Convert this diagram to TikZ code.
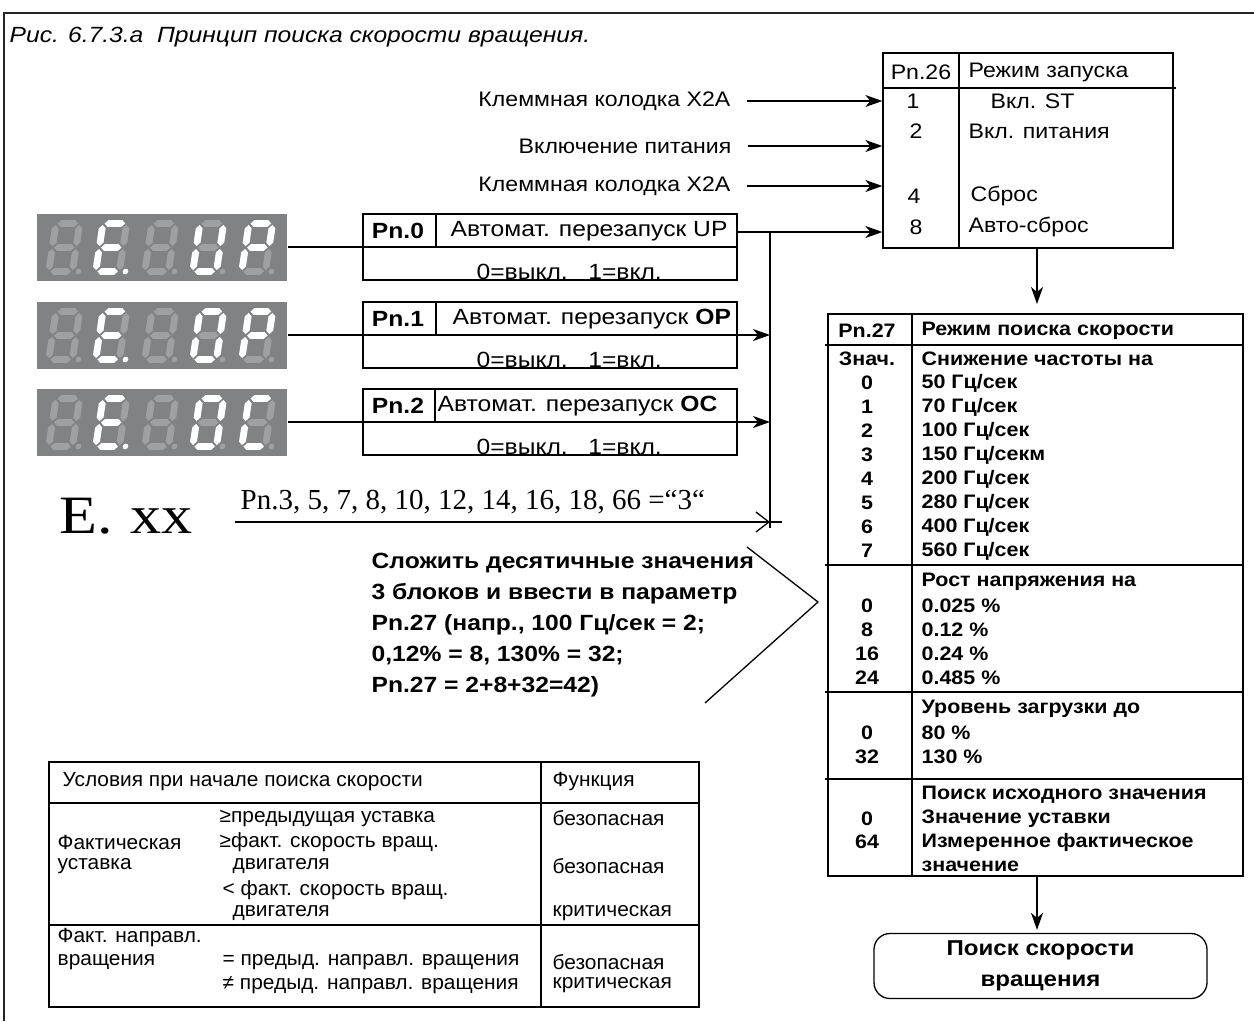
\documentclass[tikz,border=0pt]{standalone}
\usepackage{fontspec}
\setmainfont{Liberation Sans}
\newfontfamily\sA[FakeStretch=1.1]{Liberation Sans}
\newfontfamily\sB[FakeStretch=1.12]{Liberation Sans}
\newfontfamily\sC[FakeStretch=1.02]{Liberation Sans}
\newfontfamily\serifx{Liberation Serif}
\newfontfamily\serifw[FakeStretch=1.15]{Liberation Serif}
\usetikzlibrary{arrows.meta,calc}
\definecolor{dispbg}{RGB}{128,130,132}
\definecolor{segdim}{RGB}{158,160,162}
\def\segcol{segdim}
\def\hh{3.4}
\newcommand\hseg[3]{\fill[fill=\segcol] (#1,#3) -- ({#1+\hh},{#3-\hh}) -- ({#2-\hh},{#3-\hh}) -- (#2,#3) -- ({#2-\hh},{#3+\hh}) -- ({#1+\hh},{#3+\hh}) -- cycle;}
\newcommand\vseg[3]{\fill[fill=\segcol] (#1,#2) -- ({#1+\hh},{#2+\hh}) -- ({#1+\hh},{#3-\hh}) -- (#1,#3) -- ({#1-\hh},{#3-\hh}) -- ({#1-\hh},{#2+\hh}) -- cycle;}
\newcommand\SA{\hseg{5}{25.5}{-51}}
\newcommand\SB{\vseg{27}{-49.5}{-28.5}}
\newcommand\SC{\vseg{27}{-25.5}{-4.5}}
\newcommand\SD{\hseg{5}{25.5}{-3}}
\newcommand\SE{\vseg{3.3}{-25.5}{-4.5}}
\newcommand\SF{\vseg{3.3}{-49.5}{-28.5}}
\newcommand\SG{\hseg{5}{25.5}{-27}}
\newcommand\SP{\fill[fill=\segcol] (33,-3) circle (2.8);}
\newcommand\sdigit[3]{%
  \begin{scope}[shift={(#1,#2)},xslant=0.15]
    \def\segcol{segdim}\SA\SB\SC\SD\SE\SF\SG\SP
    \def\segcol{white}#3
  \end{scope}}
\newcommand\sdisplay[3]{% y bottom, digit4, digit5
  \sdigit{45}{#1}{}
  \sdigit{92}{#1}{\SA\SD\SE\SF\SG\SP}
  \sdigit{141}{#1}{}
  \sdigit{189}{#1}{#2}
  \sdigit{238}{#1}{#3}}
\begin{document}
\begin{tikzpicture}[x=1pt,y=-1pt,line width=1.3pt,
  arr/.style={-{Stealth[length=17pt,width=12pt,inset=5pt]}},
  txt/.style={inner sep=0pt,font=\fontsize{21}{25}\selectfont\sA},
  ptxt/.style={inner sep=0pt,font=\fontsize{22}{26}\selectfont\sB},
  btxt/.style={inner sep=0pt,font=\fontsize{19.5}{23}\selectfont\sA\bfseries},
  ntxt/.style={inner sep=0pt,font=\fontsize{20.5}{24}\selectfont\sC},
  pbox/.style={draw,minimum width=374pt,minimum height=66pt,inner sep=0pt},
  dispbox/.style={fill=dispbg,minimum width=250pt,minimum height=67pt,inner sep=0pt}]
\useasboundingbox (0,0) rectangle (1254,1021);
% outer frame
\draw[line width=2.5pt,black!85] (1254,13) -- (4,13) -- (4,1021);
\node[inner sep=0pt,anchor=base west,font=\fontsize{22}{26}\selectfont\sB\itshape] (title) at (9,42) {Рис. 6.7.3.а\ \ Принцип поиска скорости вращения.};

% ---------- Pn.26 table
\node[draw,minimum width=290pt,minimum height=195pt,inner sep=0pt] (pn26) at (1028,150.5) {};
\draw (883,88) -- (1176,88);
\draw (959,53) -- (959,248);
\node[txt] (h26a) at (921,72) {Pn.26};
\node[txt,anchor=west] (h26b) at (968,72) {Режим запуска};
\node[txt] (r1a) at (913,101) {1};
\node[txt,anchor=west] (r1b) at (990,101) {Вкл. ST};
\node[txt] (r2a) at (916,131) {2};
\node[txt,anchor=west] (r2b) at (968,131) {Вкл. питания};
\node[txt] (r4a) at (914,196) {4};
\node[txt,anchor=west] (r4b) at (970,196) {Сброс};
\node[txt] (r8a) at (916,227) {8};
\node[txt,anchor=west] (r8b) at (968,227) {Авто-сброс};

% left labels
\node[txt,anchor=east] (l1) at (731,101) {Клеммная колодка X2A};
\node[txt,anchor=east] (l2) at (732,146) {Включение питания};
\node[txt,anchor=east] (l3) at (731,186) {Клеммная колодка X2A};
\draw[arr] ([xshift=16pt]l1.east) -- (l1.east -| pn26.west);
\draw[arr] ([xshift=16pt]l2.east) -- (l2.east -| pn26.west);
\draw[arr] ([xshift=16pt]l3.east) -- (l3.east -| pn26.west);

% ---------- displays
\node[dispbox] (d1) at (162,247) {};
\node[dispbox] (d2) at (162,335) {};
\node[dispbox] (d3) at (162,422) {};
\sdisplay{274.5}{\SB\SC\SD\SE\SF}{\SA\SB\SE\SF\SG}
\sdisplay{362.5}{\SA\SB\SC\SD\SE\SF}{\SA\SB\SE\SF\SG}
\sdisplay{449.5}{\SA\SB\SC\SD\SE\SF}{\SA\SD\SE\SF}

% ---------- Pn.0..2 boxes
\node[pbox] (b0) at (550,247) {};
\node[pbox] (b1) at (550,335) {};
\node[pbox] (b2) at (550,422) {};
\draw (436,214) -- (436,247);
\draw (436,302) -- (436,335);
\draw (435,389) -- (435,422);
\draw (b0.west) -- (b0.east);
\node[ptxt,font=\fontsize{22}{26}\selectfont\sB\bfseries] (p0a) at (398,231) {Pn.0};
\node[ptxt,anchor=west] (p0b) at (450,231) {Автомат. перезапуск UP};
\node[ptxt,anchor=base west] (p0c) at (476,279) {0=выкл.\ \ \ 1=вкл.};
\node[ptxt,font=\fontsize{22}{26}\selectfont\sB\bfseries] (p1a) at (398,319) {Pn.1};
\node[ptxt,anchor=west] (p1b) at (452,319) {Автомат. перезапуск \textbf{OP}};
\node[ptxt,anchor=base west] (p1c) at (476,367) {0=выкл.\ \ \ 1=вкл.};
\node[ptxt,font=\fontsize{22}{26}\selectfont\sB\bfseries] (p2a) at (398,406) {Pn.2};
\node[ptxt,anchor=west] (p2b) at (437,406) {Автомат. перезапуск \textbf{OC}};
\node[ptxt,anchor=base west] (p2c) at (476,454) {0=выкл.\ \ \ 1=вкл.};

% connectors displays -> boxes/bus
\coordinate (bt) at (770,232);
\coordinate (bb) at (770,528);
\coordinate (p0) at (737,232);
\draw (d1.east) -- (b0.west);
\draw[arr] (d2.east) -- (d2.east -| bt);
\draw[arr] (d3.east) -- (d3.east -| bt);
\draw (p0) -- (bt);
\draw[arr] (bt) -- (bt -| pn26.west);
\draw (bt) -- (bb);
\draw[line width=2.4pt] (770,422) -- (bb);

% E.xx line
\node[inner sep=0pt,anchor=base west,font=\fontsize{54}{60}\selectfont\serifw] (exx) at (59,533) {E.\hspace{17pt}xx};
\node[inner sep=0pt,anchor=base west,font=\fontsize{29}{34}\selectfont\serifx] (pn3) at (240,509) {Pn.3, 5, 7, 8, 10, 12, 14, 16, 18, 66 =“3“};
\coordinate (ex) at (235,522);
\coordinate (exb) at (770,522);
\coordinate (exe) at (782,522);
\draw[-{Straight Barb[length=13pt,width=20pt]}] (ex) -- (exb);
\draw (exb) -- (exe);

% note text
\node[inner sep=0pt,anchor=west,align=left,font=\fontsize{22}{31}\selectfont\sB\bfseries] (note) at (371,625) {Сложить десятичные значения\\3 блоков и ввести в параметр\\Pn.27 (напр., 100 Гц/сек = 2;\\0,12\% = 8, 130\% = 32;\\Pn.27 = 2+8+32=42)};
\coordinate (c1) at (747,547);
\coordinate (c2) at (818,602);
\coordinate (c3) at (705,703);
\draw (c1) -- (c2) -- (c3);

% ---------- Pn.27 table
\node[draw,line width=2pt,minimum width=415pt,minimum height=562pt,inner sep=0pt] (pn27) at (1035.5,595) {};
\draw[line width=2pt] (825,345) -- (1243,345);
\draw[line width=2pt] (825,565) -- (1242,565);
\draw[line width=2pt] (825,692) -- (1242,692);
\draw[line width=2pt] (825,779) -- (1242,779);
\draw[line width=2pt] (912,314) -- (912,876);
\coordinate (a26) at (1037,248);
\draw[arr,shorten >=9pt] (a26) -- (a26 |- pn27.north);
\foreach \y/\a/\b [count=\i] in {
 331/{Pn.27}/{Режим поиска скорости},
 359/{Знач.}/{Снижение частоты на},
 383/0/{50 Гц/сек}, 407/1/{70 Гц/сек}, 431/2/{100 Гц/сек}, 455/3/{150 Гц/секм},
 479/4/{200 Гц/сек}, 503/5/{280 Гц/сек}, 527/6/{400 Гц/сек}, 551/7/{560 Гц/сек},
 582/{}/{Рост напряжения на}, 606/0/{0.025 \%}, 630/8/{0.12 \%}, 654/16/{0.24 \%}, 678/24/{0.485 \%},
 709/{}/{Уровень загрузки до}, 733/0/{80 \%}, 757/32/{130 \%},
 795/{}/{Поиск исходного значения}, 819/0/{Значение уставки}, 842/64/{Измеренное фактическое}, 866/{}/{значение}}
 {\node[btxt] (ta\i) at (867,\y) {\a};
  \node[btxt,anchor=west] (tb\i) at (921,\y) {\b};}

% ---------- search box
\node[draw,rounded corners=16pt,minimum width=333pt,minimum height=65pt,inner sep=0pt,align=center,font=\fontsize{21.5}{31}\selectfont\sB\bfseries] (search) at (1040.5,966) {Поиск скорости\\вращения};
\coordinate (a27) at (1037,876);
\draw[arr,shorten >=3pt] (a27) -- (a27 |- search.north);

% ---------- conditions table
\node[draw,minimum width=650pt,minimum height=245pt,inner sep=0pt] (cond) at (374,884.5) {};
\draw (49,803) -- (699,803);
\draw (49,925) -- (699,925);
\draw (541,762) -- (541,1007);
\node[ntxt,anchor=west] (c01) at (62,782) {Условия при начале поиска скорости};
\node[ntxt,anchor=west] (c02) at (552,782) {Функция};
\node[ntxt,anchor=west] (c11) at (219,818) {≥предыдущая уставка};
\node[ntxt,anchor=west] (c12) at (552,818) {безопасная};
\node[ntxt,anchor=west] (c21) at (57,842) {Фактическая};
\node[ntxt,anchor=west] (c22) at (219,842) {≥факт. скорость вращ.};
\node[ntxt,anchor=west] (c31) at (57,866) {уставка};
\node[ntxt,anchor=west] (c32) at (232,866) {двигателя};
\node[ntxt,anchor=west] (c33) at (552,866) {безопасная};
\node[ntxt,anchor=west] (c41) at (222,890) {< факт. скорость вращ.};
\node[ntxt,anchor=west] (c51) at (232,913) {двигателя};
\node[ntxt,anchor=west] (c52) at (552,913) {критическая};
\node[ntxt,anchor=west] (c61) at (57,938) {Факт. направл.};
\node[ntxt,anchor=west] (c71) at (57,962) {вращения};
\node[ntxt,anchor=west] (c72) at (222,962) {= предыд. направл. вращения};
\node[ntxt,anchor=west] (c73) at (552,962) {безопасная};
\node[ntxt,anchor=west] (c81) at (222,985) {≠ предыд. направл. вращения};
\node[ntxt,anchor=west] (c82) at (552,985) {критическая};
\end{tikzpicture}
\end{document}
